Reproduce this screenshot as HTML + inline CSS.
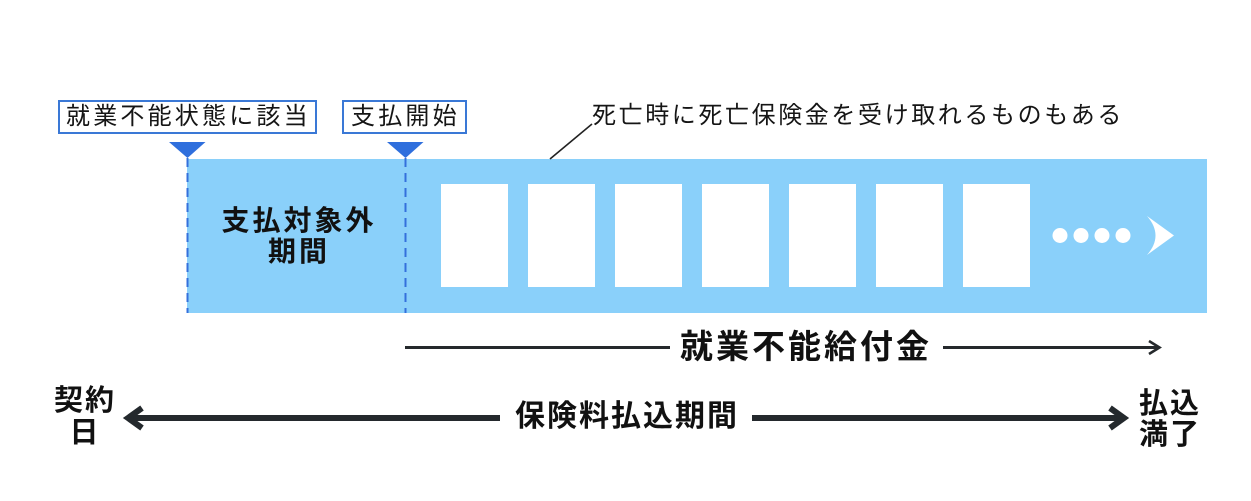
<!DOCTYPE html>
<html lang="ja">
<head>
<meta charset="utf-8">
<style>
  html, body { margin:0; padding:0; background:#ffffff; }
  body { width:1251px; height:501px; position:relative; overflow:hidden;
         font-family:"Liberation Sans","Noto Sans CJK JP",sans-serif; color:#151515; }
  .t { position:absolute; white-space:nowrap; line-height:1; }
  .lab { font-size:24px; letter-spacing:3.2px; font-weight:400; }
  .box { position:absolute; box-sizing:border-box; border:2px solid #3a78d6; background:#fff; }
  .b { font-weight:700; color:#111; }
  svg { position:absolute; left:0; top:0; }
</style>
</head>
<body>
<svg width="1251" height="501" viewBox="0 0 1251 501">
  <rect x="187" y="159" width="1020" height="154" fill="#8ad0fa"/>
  <g fill="#ffffff">
    <rect x="441" y="184" width="67" height="103"/>
    <rect x="528" y="184" width="67" height="103"/>
    <rect x="615" y="184" width="67" height="103"/>
    <rect x="702" y="184" width="67" height="103"/>
    <rect x="789" y="184" width="67" height="103"/>
    <rect x="876" y="184" width="67" height="103"/>
    <rect x="963" y="184" width="67" height="103"/>
    <circle cx="1060" cy="235.5" r="7.5"/>
    <circle cx="1081" cy="235.5" r="7.5"/>
    <circle cx="1102" cy="235.5" r="7.5"/>
    <circle cx="1123" cy="235.5" r="7.5"/>
    <path d="M1147,216 L1174,235.5 L1147,255 Q1164,235.5 1147,216 Z"/>
  </g>
  <g stroke="#3470dc" stroke-width="2" stroke-dasharray="9 6" fill="none">
    <line x1="187.5" y1="158" x2="187.5" y2="313"/>
    <line x1="405.5" y1="158" x2="405.5" y2="313"/>
  </g>
  <g fill="#2f6fdd">
    <polygon points="169,142 205.5,142 187.5,158"/>
    <polygon points="387,142 423.5,142 405.5,158"/>
  </g>
  <line x1="550" y1="159" x2="592" y2="124" stroke="#222" stroke-width="1.6"/>
  <g stroke="#25292c" fill="none">
    <line x1="405" y1="347.5" x2="670" y2="347.5" stroke-width="3"/>
    <line x1="943" y1="347.5" x2="1159" y2="347.5" stroke-width="3"/>
    <polyline points="1149,341 1159.5,347.5 1149,354" stroke-width="2.6" stroke-linejoin="miter"/>
  </g>
  <g stroke="#24292d" fill="none">
    <line x1="129" y1="418" x2="500" y2="418" stroke-width="6"/>
    <line x1="752" y1="418" x2="1122" y2="418" stroke-width="6"/>
    <polyline points="142,408 128,418 142,428" stroke-width="6" stroke-linejoin="miter"/>
    <polyline points="1110,408 1124,418 1110,428" stroke-width="6" stroke-linejoin="miter"/>
  </g>
</svg>

<div class="box" style="left:58px; top:100px; width:259px; height:34px;"></div>
<div class="t lab" style="left:66px; top:105px;">就業不能状態に該当</div>

<div class="box" style="left:342px; top:100px; width:125px; height:34px;"></div>
<div class="t lab" style="left:351px; top:105px;">支払開始</div>

<div class="t lab" style="left:592px; top:104px; letter-spacing:2.6px;">死亡時に死亡保険金を受け取れるものもある</div>

<div class="t b" style="left:196px; top:205px; width:200px; text-align:center; font-size:28px; line-height:31px; letter-spacing:3px; padding-left:3px;">支払対象外<br>期間</div>

<div class="t b" style="left:680px; top:330px; font-size:33px; letter-spacing:3px;">就業不能給付金</div>

<div class="t b" style="left:515px; top:402px; font-size:30px; letter-spacing:2px;">保険料払込期間</div>

<div class="t b" style="left:32px; top:385px; width:102px; text-align:center; font-size:29px; line-height:32px; letter-spacing:2px; padding-left:2px;">契約<br>日</div>

<div class="t b" style="left:1117px; top:389px; width:102px; text-align:center; font-size:29px; line-height:31px; letter-spacing:2px; padding-left:2px;">払込<br>満了</div>

</body>
</html>
